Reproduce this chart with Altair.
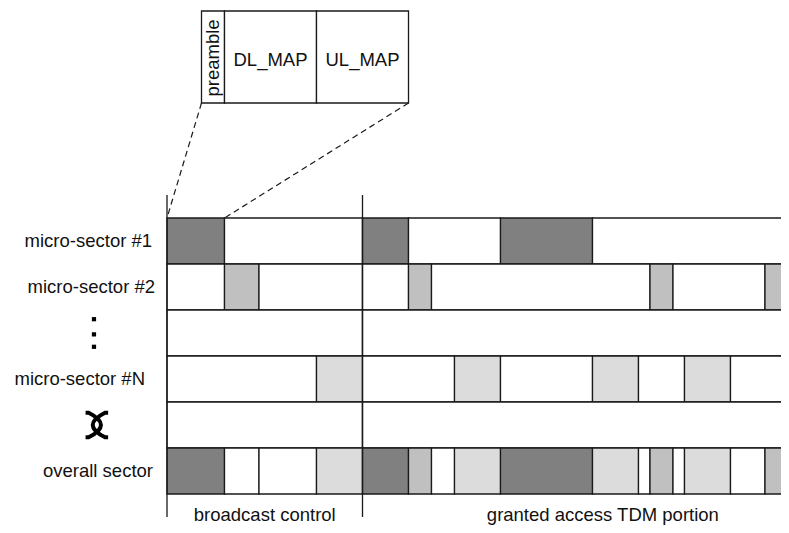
import altair as alt
import pandas as pd

# ---- data (time slots, rows) ----
row_label_text = ["micro-sector #1", "micro-sector #2", "micro-sector #N", "overall sector"]
row_label_row = [0, 1, 3, 5]
row_label_end = [-1.3, -1.04, -1.91, -1.22]

ms1_bounds = [0, 5, 17, 21, 29, 37, 56]
ms1_shades = ["dark", "white", "dark", "white", "dark", "white"]
ms2_bounds = [0, 5, 8, 17, 21, 23, 42, 44, 52, 56]
ms2_shades = ["white", "mid", "white", "white", "mid", "white", "mid", "white", "mid"]
dots_bounds = [0, 17, 56]
dots_shades = ["white", "white"]
msn_bounds = [0, 13, 17, 25, 29, 37, 41, 45, 49, 56]
msn_shades = ["white", "light", "white", "light", "white", "light", "white", "light", "white"]
cross_bounds = [0, 17, 56]
cross_shades = ["white", "white"]
overall_bounds = [0, 5, 8, 13, 17, 21, 23, 25, 29, 37, 41, 42, 44, 45, 49, 52, 56]
overall_shades = ["dark", "white", "white", "light", "dark", "mid", "white", "light",
                  "dark", "light", "white", "mid", "white", "light", "white", "mid"]

portion_names = ["broadcast control", "granted access TDM portion"]
portion_bounds = [0, 17]
portion_label_x = [8.5, 37.9]

inset_bounds = [3, 5, 13, 21]
inset_names = ["preamble", "DL_MAP", "UL_MAP"]
zoom_from = [3, 21]
zoom_to = [0, 5]

shade_domain = ["dark", "mid", "light", "white"]
shade_range = ["#808080", "#c0c0c0", "#dcdcdc", "#ffffff"]

# ---- tables ----
all_rows = [(ms1_bounds, ms1_shades), (ms2_bounds, ms2_shades), (dots_bounds, dots_shades),
            (msn_bounds, msn_shades), (cross_bounds, cross_shades), (overall_bounds, overall_shades)]
recs = []
for r, (b, s) in enumerate(all_rows):
    for i, sh in enumerate(s):
        recs.append({"row": r, "row2": r + 1, "start": b[i], "end": b[i + 1], "shade": sh})
seg_df = pd.DataFrame(recs)

vline_df = pd.DataFrame({"x": portion_bounds, "y": [-0.5] * 2, "y2": [6.5] * 2})
inset_df = pd.DataFrame({"start": inset_bounds[:-1], "end": inset_bounds[1:],
                         "name": inset_names, "top": [-4.5] * 3, "bot": [-2.5] * 3})
inset_df["mid"] = (inset_df["start"] + inset_df["end"]) / 2
dash_df = pd.DataFrame({"x": zoom_from, "y": [-2.5, -2.5], "x2": zoom_to, "y2": [0, 0]})
label_df = pd.DataFrame({"text": row_label_text, "x": row_label_end,
                         "y": [r + 0.5 for r in row_label_row]})
portion_df = pd.DataFrame({"text": portion_names, "x": portion_label_x, "y": [6.59, 6.59]})
dots_df = pd.DataFrame({"x": [-6.35] * 3, "y": [2.2, 2.53, 2.8]})
cross_df = pd.DataFrame({"x": [-6.1], "y": [4.5]})

xs = alt.Scale(domain=[-13.826, 53.391], nice=False, zero=False)
ys = alt.Scale(domain=[-4.565, 6.674], reverse=True, nice=False, zero=False)
FONT = "Liberation Sans"
FS = 18.5
LINE = "#1a1a1a"

segs = alt.Chart(seg_df).mark_rect(stroke=LINE, strokeWidth=1.3, clip=True).encode(
    x=alt.X("start:Q", scale=xs, axis=None), x2="end:Q",
    y=alt.Y("row:Q", scale=ys, axis=None), y2="row2:Q",
    fill=alt.Fill("shade:N", scale=alt.Scale(domain=shade_domain, range=shade_range), legend=None),
)

vlines = alt.Chart(vline_df).mark_rule(color=LINE, strokeWidth=1.3).encode(
    x=alt.X("x:Q", scale=xs, axis=None),
    y=alt.Y("y:Q", scale=ys, axis=None), y2="y2:Q",
)

inset = alt.Chart(inset_df).mark_rect(fill="white", stroke=LINE, strokeWidth=1.3).encode(
    x=alt.X("start:Q", scale=xs, axis=None), x2="end:Q",
    y=alt.Y("top:Q", scale=ys, axis=None), y2="bot:Q",
)
inset_pre = alt.Chart(inset_df.iloc[:1]).mark_text(
    font=FONT, fontSize=FS, angle=270, align="center", baseline="middle", color="#111"
).encode(x=alt.X("mid:Q", scale=xs, axis=None), y=alt.value(58 - 8), text="name:N")
inset_txt = alt.Chart(inset_df.iloc[1:]).mark_text(
    font=FONT, fontSize=FS, align="center", baseline="middle", color="#111"
).encode(x=alt.X("mid:Q", scale=xs, axis=None), y=alt.value(60 - 8), text="name:N")

dashes = alt.Chart(dash_df).mark_rule(color=LINE, strokeWidth=1.2, strokeDash=[6, 4]).encode(
    x=alt.X("x:Q", scale=xs, axis=None), x2="x2:Q",
    y=alt.Y("y:Q", scale=ys, axis=None), y2="y2:Q",
)

labels = alt.Chart(label_df).mark_text(
    font=FONT, fontSize=FS, align="right", baseline="middle", color="#111"
).encode(x=alt.X("x:Q", scale=xs, axis=None), y=alt.Y("y:Q", scale=ys, axis=None), text="text:N")

portions = alt.Chart(portion_df).mark_text(
    font=FONT, fontSize=FS, align="center", baseline="alphabetic", color="#111"
).encode(x=alt.X("x:Q", scale=xs, axis=None), y=alt.Y("y:Q", scale=ys, axis=None), text="text:N")

dots = alt.Chart(dots_df).mark_point(shape="square", filled=True, size=18, color="black", opacity=1).encode(
    x=alt.X("x:Q", scale=xs, axis=None), y=alt.Y("y:Q", scale=ys, axis=None)
)

cross_shape = "M-1.1,-1.2 L-0.8,-1.2 Q1.6,0 -0.8,1.2 L-1.1,1.2 M1.1,-1.2 L0.8,-1.2 Q-1.6,0 0.8,1.2 L1.1,1.2"
cross = alt.Chart(cross_df).mark_point(shape=cross_shape, filled=False, size=420, color="black",
                                       strokeWidth=4, opacity=1).encode(
    x=alt.X("x:Q", scale=xs, axis=None), y=alt.Y("y:Q", scale=ys, axis=None)
)

chart = alt.layer(segs, vlines, inset, inset_pre, inset_txt, dashes, labels, portions, dots, cross).properties(
    width=773, height=517, padding=0, autosize="none", background="white"
).configure_view(stroke=None)

chart.save("out.html", embed_options={"renderer": "svg", "actions": False})
